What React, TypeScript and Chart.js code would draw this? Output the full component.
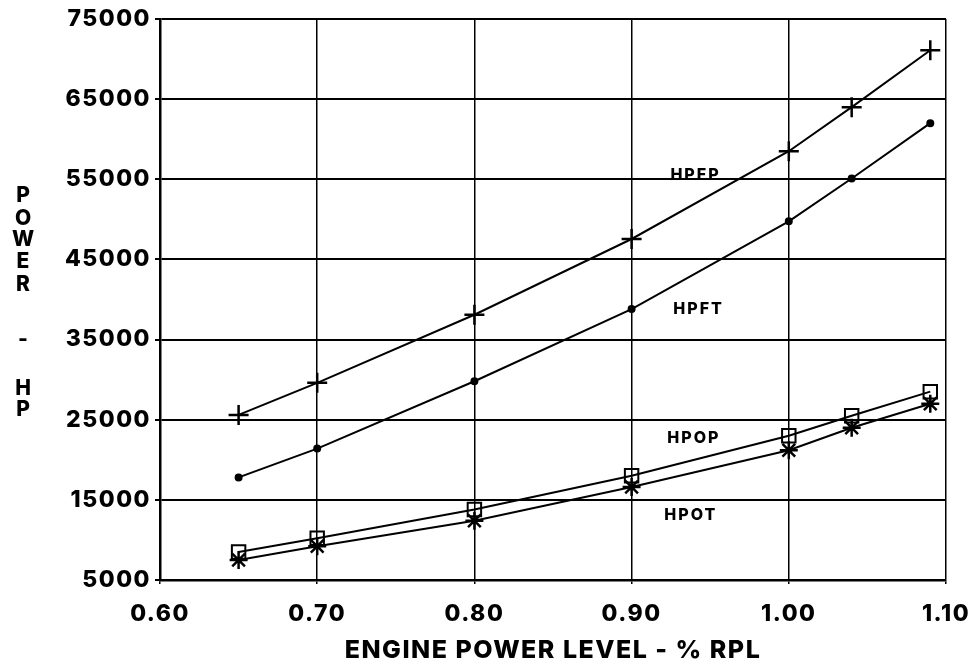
import React, { useEffect, useRef } from 'react';
import { Chart, registerables } from 'chart.js';

Chart.register(...registerables);

// ---- data ----
const powerLevels = [0.65, 0.7, 0.8, 0.9, 1.0, 1.04, 1.09];
const hpfp = [25600, 29600, 38100, 47550, 58500, 64000, 71100];
const hpft = [17800, 21400, 29800, 38800, 49750, 55100, 62000];
const hpop = [8500, 10200, 13800, 18000, 23000, 25500, 28500];
const hpot = [7500, 9200, 12400, 16600, 21200, 24000, 27000];

const seriesNames = ['HPFP', 'HPFT', 'HPOP', 'HPOT'];
const nameX = [0.940, 0.942, 0.939, 0.937];
const nameY = [55450, 38800, 22750, 13100];

const xMin = 0.6;
const xMax = 1.1;
const xStep = 0.1;
const yMin = 5000;
const yMax = 75000;
const yStep = 10000;

const xTitle = 'ENGINE POWER LEVEL - % RPL';
const yTitleLetters = ['P', 'O', 'W', 'E', 'R', '-', 'H', 'P'];
const yTitleLetterPos = [196, 219, 240, 262, 285, 340, 389, 410];

const FONT = 'Inter';
const WEIGHT = 800;

const spacingPlugin = {
  id: 'textSpacing',
  beforeDraw(chart: any) {
    chart.ctx.letterSpacing = '1.5px';
  },
  beforeDatasetsDraw(chart: any) {
    chart.ctx.letterSpacing = '0px';
  },
};

const seriesLabelPlugin = {
  id: 'seriesLabels',
  afterDatasetsDraw(chart: any) {
    const { ctx, scales } = chart;
    ctx.save();
    ctx.fillStyle = '#000';
    ctx.font = `${WEIGHT} 16px "${FONT}"`;
    ctx.letterSpacing = '2px';
    ctx.textAlign = 'center';
    ctx.textBaseline = 'middle';
    seriesNames.forEach((n, i) => {
      const x = scales.x.getPixelForValue(nameX[i]);
      const y = scales.y.getPixelForValue(nameY[i]);
      ctx.fillText(n, x + 1, y);
    });
    ctx.restore();
  },
};

const yTitlePlugin = {
  id: 'yStackedTitle',
  afterDraw(chart: any) {
    const { ctx } = chart;
    ctx.save();
    ctx.fillStyle = '#000';
    ctx.font = `${WEIGHT} 21px "${FONT}"`;
    ctx.letterSpacing = '0px';
    ctx.textAlign = 'center';
    ctx.textBaseline = 'middle';
    yTitleLetters.forEach((c, i) => {
      ctx.fillText(c, 23, yTitleLetterPos[i]);
    });
    ctx.restore();
  },
};

export default function App() {
  const ref = useRef<HTMLCanvasElement | null>(null);

  useEffect(() => {
    if (!ref.current) return;
    const line = (label: string, data: number[], extra: any) => ({
      label,
      data: powerLevels.map((x, i) => ({ x, y: data[i] })),
      borderColor: '#000',
      backgroundColor: '#000',
      borderWidth: 2,
      pointBorderColor: '#000',
      pointBorderWidth: 2,
      tension: 0,
      showLine: true,
      fill: false,
      ...extra,
    });

    const chart = new Chart(ref.current, {
      type: 'scatter',
      data: {
        datasets: [
          line('HPFP', hpfp, { pointStyle: 'cross', pointRadius: 10, pointBorderWidth: 2.5 }),
          line('HPFT', hpft, { pointStyle: 'circle', pointRadius: 3, pointBackgroundColor: '#000' }),
          line('HPOP', hpop, { pointStyle: 'rect', pointRadius: 9.5, pointBackgroundColor: 'rgba(0,0,0,0)' }),
          line('HPOT', hpot, { pointStyle: 'star', pointRadius: 9, pointBorderWidth: 2.5 }),
        ],
      },
      options: {
        responsive: false,
        animation: false,
        layout: { padding: { left: 0, top: 19, right: 25, bottom: 0 } },
        plugins: {
          legend: { display: false },
          tooltip: { enabled: false },
        },
        scales: {
          x: {
            type: 'linear',
            min: xMin,
            max: xMax,
            afterFit: (s: any) => {
              s.height = 84;
              s.paddingLeft = 0;
              s.paddingRight = 0;
            },
            ticks: {
              stepSize: xStep,
              color: '#000',
              padding: 16,
              font: { family: FONT, size: 23, weight: WEIGHT },
              callback: (v: any) => Number(v).toFixed(2),
              maxRotation: 0,
            },
            grid: { color: '#000', lineWidth: 1.5, drawTicks: true, tickLength: 4 },
            border: { display: true, color: '#000', width: 2.5 },
            title: {
              display: true,
              text: xTitle,
              color: '#000',
              font: { family: FONT, size: 25, weight: WEIGHT, lineHeight: 1.1 },
              padding: { top: 0, bottom: 0 },
            },
          },
          y: {
            type: 'linear',
            min: yMin,
            max: yMax,
            afterFit: (s: any) => {
              s.width = 160;
              s.paddingTop = 0;
              s.paddingBottom = 0;
            },
            ticks: {
              stepSize: yStep,
              color: '#000',
              padding: 4,
              font: { family: FONT, size: 23, weight: WEIGHT },
              callback: (v: any) => String(v),
            },
            grid: { color: '#000', lineWidth: 2, drawTicks: true, tickLength: 5 },
            border: { display: true, color: '#000', width: 2.5 },
          },
        },
      },
      plugins: [spacingPlugin, seriesLabelPlugin, yTitlePlugin],
    } as any);

    return () => chart.destroy();
  }, []);

  return (
    <div style={{ position: 'fixed', left: 0, top: 0, width: 971, height: 664, background: '#fff' }}>
      <canvas ref={ref} width={971} height={664} style={{ display: 'block' }} />
    </div>
  );
}
